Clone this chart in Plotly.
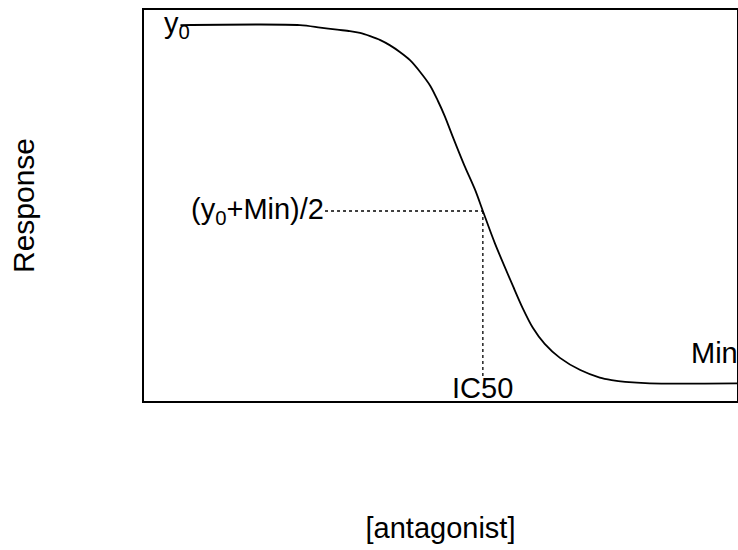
import plotly.graph_objects as go

# Dose-response curve (x = log[antagonist], y = response %)
log_conc = [-3.57, -2.16, -1.92, -1.72, -1.57, -1.45, -1.33, -1.21, -1.10, -0.98,
            -0.86, -0.74, -0.62, -0.53, -0.45, -0.35, -0.22, -0.09, 0.00, 0.14,
            0.36, 0.47, 0.59, 0.73, 0.91, 1.15, 1.38, 1.52, 1.68, 1.97, 3.00]
response = [100.0, 100.0, 99.3, 98.7, 98.3, 97.8, 96.9, 95.8, 94.4, 92.5,
            90.2, 86.9, 83.0, 78.8, 74.6, 68.5, 60.9, 53.9, 48.1, 39.2,
            26.9, 21.0, 15.5, 11.0, 7.1, 3.7, 1.6, 0.9, 0.4, 0.0, 0.0]

# Guide lines for the half-maximal point
half_x = [-1.863, 0.0]
half_y = [48.1, 48.1]
ic50_x = [0.0, 0.0]
ic50_y = [48.1, 1.76]

# Labels
label_y0 = "y<sub>0</sub>"
label_half = "(y<sub>0</sub>+Min)/2"
label_ic50 = "IC50"
label_min = "Min"
x_title = "[antagonist]"
y_title = "Response"

FONT = "Arial, Liberation Sans, sans-serif"
FS = 29

fig = go.Figure()
fig.add_trace(go.Scatter(x=log_conc, y=response, mode="lines",
                         line=dict(color="black", width=1.8, shape="spline", smoothing=0.8),
                         showlegend=False, hoverinfo="skip"))
fig.add_trace(go.Scatter(x=half_x, y=half_y, mode="lines",
                         line=dict(color="black", width=1.3, dash="dot"),
                         showlegend=False, hoverinfo="skip"))
fig.add_trace(go.Scatter(x=ic50_x, y=ic50_y, mode="lines",
                         line=dict(color="black", width=1.3, dash="dot"),
                         showlegend=False, hoverinfo="skip"))

ann = dict(showarrow=False, font=dict(family=FONT, size=FS, color="black"),
           borderpad=0, xref="x", yref="y")
fig.add_annotation(x=-3.78, y=100, text=label_y0, xanchor="left", yanchor="middle", **ann)
fig.add_annotation(x=-1.863, y=48.1, text=label_half, xanchor="right", yanchor="middle", **ann)
fig.add_annotation(x=0.0, y=-1.3, text=label_ic50, xanchor="center", yanchor="middle", **ann)
fig.add_annotation(x=2.445, y=8.5, text=label_min, xanchor="left", yanchor="middle", **ann)

axis_common = dict(showgrid=False, zeroline=False, showticklabels=False, ticks="",
                   showline=True, linecolor="black", linewidth=1.8, mirror=True)
fig.update_xaxes(range=[-4, 3.0], title=dict(text=x_title, standoff=116,
                 font=dict(family=FONT, size=FS, color="black")), **axis_common)
fig.update_yaxes(range=[-4.94, 104.2], title=dict(text=y_title, standoff=99,
                 font=dict(family=FONT, size=30, color="black")), **axis_common)

fig.update_layout(width=738, height=550, margin=dict(l=144, r=1, t=10, b=149, autoexpand=False),
                  paper_bgcolor="white", plot_bgcolor="white",
                  font=dict(family=FONT, size=FS, color="black"))

fig.write_html("out.html")
